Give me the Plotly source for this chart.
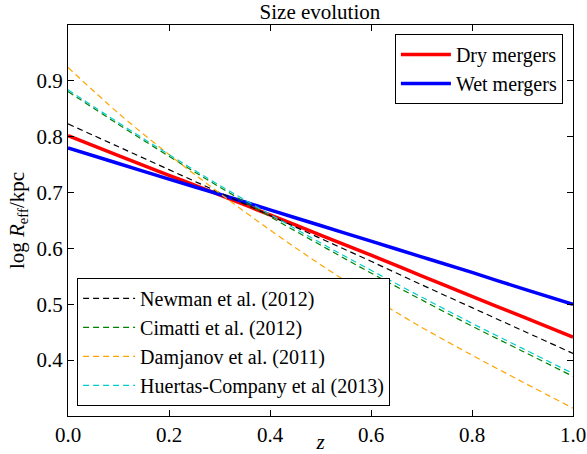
import plotly.graph_objects as go

z = [0.0, 0.1, 0.2, 0.3, 0.4, 0.5, 0.6, 0.7, 0.8, 0.9, 1.0]

dry = [0.802, 0.766, 0.731, 0.696, 0.660, 0.624, 0.588, 0.551, 0.514, 0.478, 0.441]
wet = [0.780, 0.752, 0.724, 0.697, 0.669, 0.641, 0.613, 0.585, 0.557, 0.528, 0.500]
newman = [0.823, 0.782, 0.741, 0.700, 0.659, 0.618, 0.577, 0.535, 0.494, 0.453, 0.412]
cimatti = [0.881, 0.822, 0.765, 0.710, 0.657, 0.606, 0.556, 0.508, 0.461, 0.416, 0.371]
damjanov = [0.924, 0.842, 0.768, 0.699, 0.633, 0.571, 0.513, 0.459, 0.409, 0.361, 0.314]
huertas = [0.884, 0.825, 0.768, 0.713, 0.661, 0.610, 0.561, 0.513, 0.466, 0.421, 0.376]

x_ticks = [0.0, 0.2, 0.4, 0.6, 0.8, 1.0]
y_ticks = [0.4, 0.5, 0.6, 0.7, 0.8, 0.9]

FONT = "Liberation Serif"
FS = 21
LFS = 20

fig = go.Figure()

fig.add_trace(go.Scatter(x=z, y=dry, mode="lines", name="Dry mergers", line_shape="spline",
                         line=dict(color="#ff0000", width=3.5), legend="legend"))
fig.add_trace(go.Scatter(x=z, y=wet, mode="lines", name="Wet mergers", line_shape="spline",
                         line=dict(color="#0000ff", width=3.5), legend="legend"))

dashed = [
    ("Newman et al. (2012)", newman, "#000000"),
    ("Cimatti et al. (2012)", cimatti, "#008000"),
    ("Damjanov et al. (2011)", damjanov, "#ffa500"),
    ("Huertas-Company et al (2013)", huertas, "#00cccc"),
]
for name, vals, col in dashed:
    fig.add_trace(go.Scatter(x=z, y=vals, mode="lines", name=name, line_shape="spline",
                             line=dict(color=col, width=1.2, dash="6px,4px"),
                             legend="legend2"))

axis_common = dict(
    showgrid=False, zeroline=False, showline=True, linecolor="black", linewidth=1,
    mirror="ticks", ticks="inside", ticklen=6, tickwidth=1, tickcolor="black",
    tickfont=dict(family=FONT, size=FS, color="black"), automargin=False,
)

fig.update_layout(
    width=587, height=454,
    margin=dict(l=68, r=14, t=25, b=38),
    paper_bgcolor="white", plot_bgcolor="white",
    font=dict(family=FONT, size=FS, color="black"),
    title=dict(text="Size evolution", x=0.545, xanchor="center", y=0.975, yanchor="middle",
               font=dict(family=FONT, size=FS, color="black"), automargin=False),
    xaxis=dict(range=[0, 1], tickvals=x_ticks, tickformat=".1f", ticklabelstandoff=0,
               title=dict(text="<i>z</i>", standoff=4, font=dict(family=FONT, size=FS)),
               **axis_common),
    yaxis=dict(range=[0.3, 1.0], tickvals=y_ticks, tickformat=".1f", ticklabelstandoff=0,
               title=dict(text="log <i>R</i><sub>eff</sub>/kpc", standoff=6,
                          font=dict(family=FONT, size=FS)),
               **axis_common),
    legend=dict(x=0.98, y=0.977, xanchor="right", yanchor="top", itemwidth=50,
                bgcolor="white", bordercolor="black", borderwidth=1,
                font=dict(family=FONT, size=LFS), tracegroupgap=0),
    legend2=dict(x=0.018, y=0.026, xanchor="left", yanchor="bottom", itemwidth=52,
                 bgcolor="white", bordercolor="black", borderwidth=1,
                 font=dict(family=FONT, size=LFS), tracegroupgap=0),
    showlegend=True,
)

fig.write_html("out.html")
